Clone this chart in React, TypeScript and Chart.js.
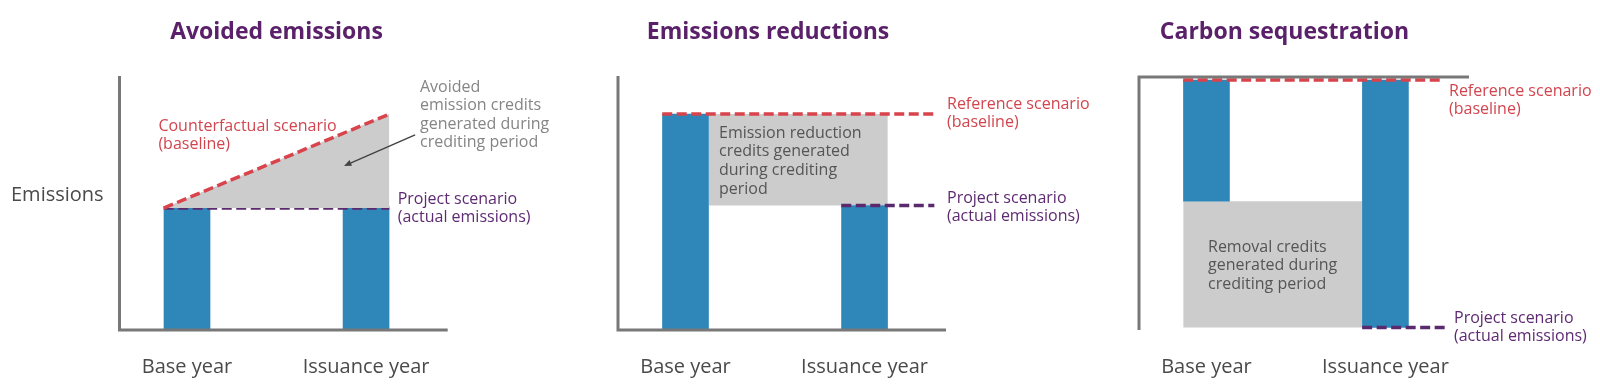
import React, { useEffect, useRef } from 'react';
import { Chart, registerables } from 'chart.js';

Chart.register(...registerables);

// ---------- data ----------
const categories = ['Base year', 'Issuance year'];
const titles = ['Avoided emissions', 'Emissions reductions', 'Carbon sequestration'];
const yAxisLabel = 'Emissions';

// Panel 1 – Avoided emissions
const avoidedBars = [48, 48];
const avoidedBaseline = [{ x: -0.13, y: 48 }, { x: 1.13, y: 85 }];
const avoidedProject = [{ x: -0.13, y: 48 }, { x: 1.13, y: 48 }];

// Panel 2 – Emissions reductions
const reductionBars = [85, 49];
const reductionReference = [{ x: -0.13, y: 85 }, { x: 1.39, y: 85 }];
const reductionProject = [{ x: 0.87, y: 49 }, { x: 1.39, y: 49 }];
const reductionCredits = [{ x: 0.13, y: 85 }, { x: 1.13, y: 85 }];
const reductionCreditsFloor = 49;

// Panel 3 – Carbon sequestration
const sequestrationBars = [-49, -100];
const sequestrationReference = [{ x: -0.13, y: 0 }, { x: 1.31, y: 0 }];
const sequestrationProject = [{ x: 0.87, y: -100 }, { x: 1.34, y: -100 }];
const sequestrationCredits = [{ x: -0.13, y: -49 }, { x: 0.87, y: -49 }];
const sequestrationCreditsFloor = -100;

// Annotation text
const counterfactualLabel = ['Counterfactual scenario', '(baseline)'];
const referenceLabel = ['Reference scenario', '(baseline)'];
const projectLabel = ['Project scenario', '(actual emissions)'];
const avoidedCreditsLabel = ['Avoided', 'emission credits', 'generated during', 'crediting period'];
const reductionCreditsLabel = ['Emission reduction', 'credits generated', 'during crediting', 'period'];
const removalCreditsLabel = ['Removal credits', 'generated during', 'crediting period'];
const avoidedArrow = [{ x: 1.274, y: 76.8 }, { x: 0.877, y: 64.6 }];

// ---------- styles ----------
const FONT = '"Open Sans", "Noto Sans", sans-serif';
const BLUE = '#2f87b9';
const GREY_FILL = '#cccccc';
const RED = '#d9434b';
const RED_TEXT = '#d2454e';
const PURPLE = '#5b2a6e';
const PURPLE_TEXT = '#5e2a72';
const TITLE = '#5a2069';
const AXIS = '#787878';
const DASH = [10, 4.5];

const barsOf = (vals: number[]) => categories.map((_, i) => ({ x: i, y: vals[i] }));

const dashed = (data: any[], color: string, extra: any = {}) => ({
  type: 'line',
  data,
  borderColor: color,
  borderWidth: 3.5,
  borderDash: DASH,
  borderCapStyle: 'butt',
  pointRadius: 0,
  tension: 0,
  fill: false,
  ...extra,
});

const bars = (vals: number[]) => ({
  type: 'bar',
  data: barsOf(vals),
  backgroundColor: BLUE,
  borderWidth: 0,
  barThickness: 46,
});

const area = (data: any[], floor: number) => ({
  type: 'line',
  data,
  borderWidth: 0,
  borderColor: 'rgba(0,0,0,0)',
  pointRadius: 0,
  backgroundColor: GREY_FILL,
  fill: { value: floor },
});

type TextBlock = { lines: string[]; x: number; y: number; color: string; lh: number };

const panels = [
  {
    width: 560,
    padding: { left: 119.5, right: 112.3, top: 76, bottom: 58 },
    xMin: -0.377, xMax: 1.456, yMin: 0, yMax: 100,
    axis: 'bottom',
    title: titles[0], titleX: 276.5,
    yLabel: true,
    arrow: avoidedArrow,
    datasets: [
      dashed(avoidedBaseline, RED, { fill: '+1', backgroundColor: GREY_FILL }),
      dashed(avoidedProject, PURPLE),
      bars(avoidedBars),
    ],
    texts: [
      { lines: counterfactualLabel, x: 158.4, y: 126, color: RED_TEXT, lh: 18.5 },
      { lines: avoidedCreditsLabel, x: 420, y: 87, color: '#858585', lh: 18.5 },
      { lines: projectLabel, x: 397.7, y: 199, color: PURPLE_TEXT, lh: 18.5 },
    ] as TextBlock[],
  },
  {
    width: 540,
    padding: { left: 58, right: 154, top: 76, bottom: 58 },
    xMin: -0.377, xMax: 1.455, yMin: 0, yMax: 100,
    axis: 'bottom',
    title: titles[1], titleX: 208,
    yLabel: false,
    arrow: null,
    datasets: [
      dashed(reductionReference, RED),
      dashed(reductionProject, PURPLE),
      bars(reductionBars),
      area(reductionCredits, reductionCreditsFloor),
    ],
    texts: [
      { lines: reductionCreditsLabel, x: 159, y: 133, color: '#555555', lh: 18.7 },
      { lines: referenceLabel, x: 387, y: 104, color: RED_TEXT, lh: 18.5 },
      { lines: projectLabel, x: 387, y: 198, color: PURPLE_TEXT, lh: 18.5 },
    ] as TextBlock[],
  },
  {
    width: 500,
    padding: { left: 39, right: 131, top: 77, bottom: 58 },
    xMin: -0.377, xMax: 1.467, yMin: -101, yMax: 1.2,
    axis: 'top',
    title: titles[2], titleX: 184.5,
    yLabel: false,
    arrow: null,
    datasets: [
      dashed(sequestrationReference, RED),
      dashed(sequestrationProject, PURPLE),
      bars(sequestrationBars),
      area(sequestrationCredits, sequestrationCreditsFloor),
    ],
    texts: [
      { lines: removalCreditsLabel, x: 108, y: 247, color: '#555555', lh: 18.5 },
      { lines: referenceLabel, x: 349, y: 91, color: RED_TEXT, lh: 18.5 },
      { lines: projectLabel, x: 354, y: 318, color: PURPLE_TEXT, lh: 18.5 },
    ] as TextBlock[],
  },
];

function makePlugin(p: any, idx: number) {
  return {
    id: 'decor' + idx,
    afterDatasetsDraw(chart: any) {
      const { ctx, chartArea: a } = chart;
      ctx.save();
      ctx.strokeStyle = AXIS;
      ctx.lineWidth = 3;
      ctx.lineCap = 'butt';
      ctx.setLineDash([]);
      ctx.beginPath();
      if (p.axis === 'bottom') {
        ctx.moveTo(a.left, a.top);
        ctx.lineTo(a.left, a.bottom + 1.5);
        ctx.moveTo(a.left - 1.5, a.bottom);
        ctx.lineTo(a.right, a.bottom);
      } else {
        ctx.moveTo(a.left, a.bottom);
        ctx.lineTo(a.left, a.top - 1.5);
        ctx.moveTo(a.left - 1.5, a.top);
        ctx.lineTo(a.right, a.top);
      }
      ctx.stroke();

      if (p.arrow) {
        const xs = chart.scales.x;
        const ys = chart.scales.y;
        const x1 = xs.getPixelForValue(p.arrow[0].x);
        const y1 = ys.getPixelForValue(p.arrow[0].y);
        const x2 = xs.getPixelForValue(p.arrow[1].x);
        const y2 = ys.getPixelForValue(p.arrow[1].y);
        const ang = Math.atan2(y2 - y1, x2 - x1);
        const hl = 8;
        ctx.strokeStyle = '#444444';
        ctx.fillStyle = '#444444';
        ctx.lineWidth = 1.5;
        ctx.beginPath();
        ctx.moveTo(x1, y1);
        ctx.lineTo(x2 - Math.cos(ang) * hl * 0.8, y2 - Math.sin(ang) * hl * 0.8);
        ctx.stroke();
        ctx.beginPath();
        ctx.moveTo(x2, y2);
        ctx.lineTo(x2 - hl * Math.cos(ang - 0.4), y2 - hl * Math.sin(ang - 0.4));
        ctx.lineTo(x2 - hl * Math.cos(ang + 0.4), y2 - hl * Math.sin(ang + 0.4));
        ctx.closePath();
        ctx.fill();
      }
      ctx.restore();
    },
    afterDraw(chart: any) {
      const { ctx, chartArea: a } = chart;
      const xs = chart.scales.x;
      ctx.save();
      ctx.textBaseline = 'middle';

      // title
      ctx.font = `bold 23px ${FONT}`;
      ctx.fillStyle = TITLE;
      ctx.textAlign = 'center';
      ctx.fillText(p.title, p.titleX, 32);

      // category labels
      ctx.font = `20px ${FONT}`;
      ctx.fillStyle = '#4a4a4a';
      categories.forEach((c, i) => {
        ctx.fillText(c, xs.getPixelForValue(i), a.bottom + 37);
      });

      // y label
      if (p.yLabel) {
        ctx.textAlign = 'left';
        ctx.fillText(yAxisLabel, 11, 195);
      }

      // annotations
      ctx.textAlign = 'left';
      ctx.font = `16px ${FONT}`;
      p.texts.forEach((t: TextBlock) => {
        ctx.fillStyle = t.color;
        t.lines.forEach((l, k) => ctx.fillText(l, t.x, t.y + k * t.lh));
      });
      ctx.restore();
    },
  };
}

function Panel({ p, idx }: { p: any; idx: number }) {
  const ref = useRef<HTMLCanvasElement | null>(null);
  useEffect(() => {
    if (!ref.current) return;
    const chart = new Chart(ref.current, {
      type: 'bar',
      data: { datasets: p.datasets as any },
      options: {
        responsive: false,
        animation: false,
        events: [],
        layout: { padding: p.padding },
        scales: {
          x: { type: 'linear', display: false, min: p.xMin, max: p.xMax, offset: false },
          y: { type: 'linear', display: false, min: p.yMin, max: p.yMax },
        },
        plugins: {
          legend: { display: false },
          tooltip: { enabled: false },
          title: { display: false },
        },
      },
      plugins: [makePlugin(p, idx)],
    } as any);
    return () => chart.destroy();
  }, []);
  return (
    <div style={{ width: p.width, height: 388 }}>
      <canvas ref={ref} width={p.width} height={388} style={{ display: 'block' }} />
    </div>
  );
}

export default function App() {
  return (
    <div
      style={{
        position: 'fixed',
        left: 0,
        top: 0,
        width: 1600,
        height: 388,
        background: '#ffffff',
        display: 'flex',
      }}
    >
      {panels.map((p, i) => (
        <Panel key={i} p={p} idx={i} />
      ))}
    </div>
  );
}
